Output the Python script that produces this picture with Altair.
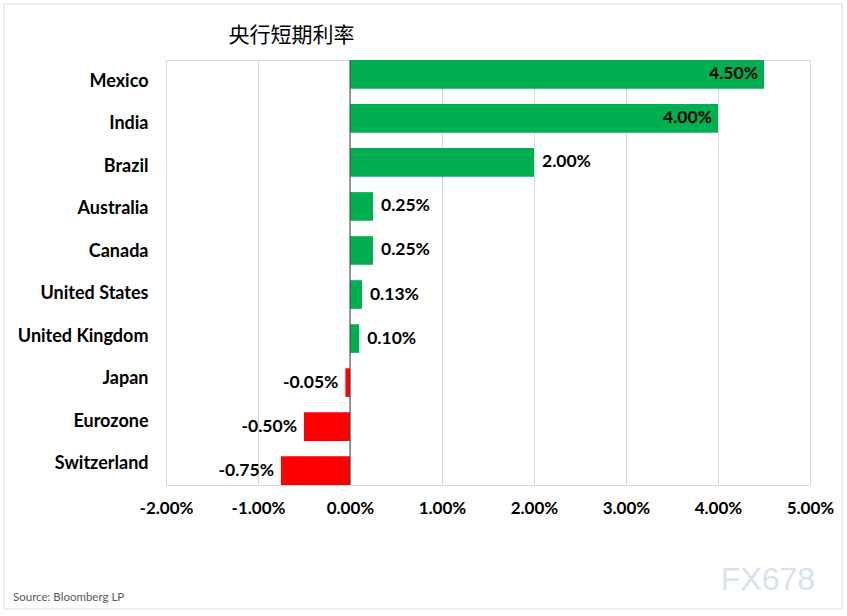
import altair as alt
import pandas as pd

# ---- data ----
countries = ["Mexico", "India", "Brazil", "Australia", "Canada",
             "United States", "United Kingdom", "Japan", "Eurozone", "Switzerland"]
rates = [4.50, 4.00, 2.00, 0.25, 0.25, 0.13, 0.10, -0.05, -0.50, -0.75]
rate_labels = ["4.50%", "4.00%", "2.00%", "0.25%", "0.25%", "0.13%", "0.10%",
               "-0.05%", "-0.50%", "-0.75%"]
x_ticks = [-2, -1, 0, 1, 2, 3, 4, 5]
chart_title = "央行短期利率"
source_text = "Source: Bloomberg LP"
watermark = "FX678"

FONT = "Lato"
CJK = "Noto Sans CJK SC"

df = pd.DataFrame({"country": countries, "rate": rates, "label": rate_labels})
df["zero"] = 0.0
one = pd.DataFrame({"k": [0]})

y_bar = alt.Y("country:N", sort=countries, title=None,
              scale=alt.Scale(paddingInner=0.35, paddingOuter=0), axis=None)
x_enc = alt.X("rate:Q", title=None,
              scale=alt.Scale(domain=[-2, 5], nice=False, zero=False),
              axis=alt.Axis(values=x_ticks,
                            labelExpr="(datum.value < 0 ? '-' : '') + format(abs(datum.value), '.2f') + '%'",
                            labelFont=FONT, labelFontSize=17, labelFontWeight="bold",
                            labelColor="black", labelPadding=15, ticks=False,
                            labelFlush=False, domain=False, grid=True,
                            gridColor="#d9d9d9"))

base = alt.Chart(df)

bars = base.mark_bar().encode(
    x=x_enc, x2="zero:Q", y=y_bar,
    color=alt.condition("datum.rate >= 0", alt.value("#00b050"), alt.value("#ff0000")),
)

txt_style = dict(font=FONT, fontSize=17.5, fontWeight="bold", color="black", baseline="middle")
y_txt = alt.Y("country:N", sort=countries)

inside = base.transform_filter("datum.rate >= 3").mark_text(
    align="right", dx=-6, **txt_style).encode(x="rate:Q", y=y_txt, text="label:N")
outside_pos = base.transform_filter("datum.rate >= 0 && datum.rate < 3").mark_text(
    align="left", dx=8, **txt_style).encode(x="rate:Q", y=y_txt, text="label:N")
outside_neg = base.transform_filter("datum.rate < 0").mark_text(
    align="right", dx=-7, **txt_style).encode(x="rate:Q", y=y_txt, text="label:N")

zero_rule = alt.Chart(df).transform_filter("datum.country == 'Mexico'").mark_rule(
    color="#404040", strokeWidth=1).encode(x="zero:Q")

bar_group = alt.layer(bars, zero_rule, inside, outside_pos, outside_neg)

# category axis (evenly spaced labels, as in the original)
cat_axis = base.mark_point(opacity=0).encode(
    y=alt.Y("country:N", sort=countries, title=None,
            scale=alt.Scale(paddingInner=0.3, paddingOuter=0.15),
            axis=alt.Axis(orient="left", labelFont=FONT, labelFontSize=18,
                          labelFontWeight="bold", labelColor="black", labelPadding=18,
                          ticks=False, domain=False, grid=False)),
    x=alt.X("zero:Q"),
)

title_mark = alt.Chart(one).mark_text(
    text=chart_title, font=CJK, fontSize=21, color="black", align="center", baseline="middle"
).encode(x=alt.value(125.5), y=alt.value(-24))

source_mark = alt.Chart(one).mark_text(
    text=source_text, font=FONT, fontSize=11.5, color="#595959", align="left", baseline="middle"
).encode(x=alt.value(-153), y=alt.value(538))

wm_mark = alt.Chart(one).mark_text(
    text=watermark, font="Liberation Sans", fontSize=32, color="#d6e2f0", align="center",
    baseline="middle"
).encode(x=alt.value(602), y=alt.value(520))

border = alt.Chart(one).mark_rect(fill=None, stroke="#d9d9d9", strokeWidth=1).encode(
    x=alt.value(-162), x2=alt.value(676), y=alt.value(-56), y2=alt.value(549))

chart = alt.layer(
    border, bar_group, cat_axis, title_mark, source_mark, wm_mark
).resolve_scale(y="independent").properties(
    width=644, height=425,
    autosize=alt.AutoSizeParams(type="none"),
    padding={"left": 166, "top": 60, "right": 37, "bottom": 131},
    background="white",
).configure_view(stroke="#d9d9d9", strokeWidth=1)

chart.save("out.html", embed_options={"renderer": "svg", "actions": False})
